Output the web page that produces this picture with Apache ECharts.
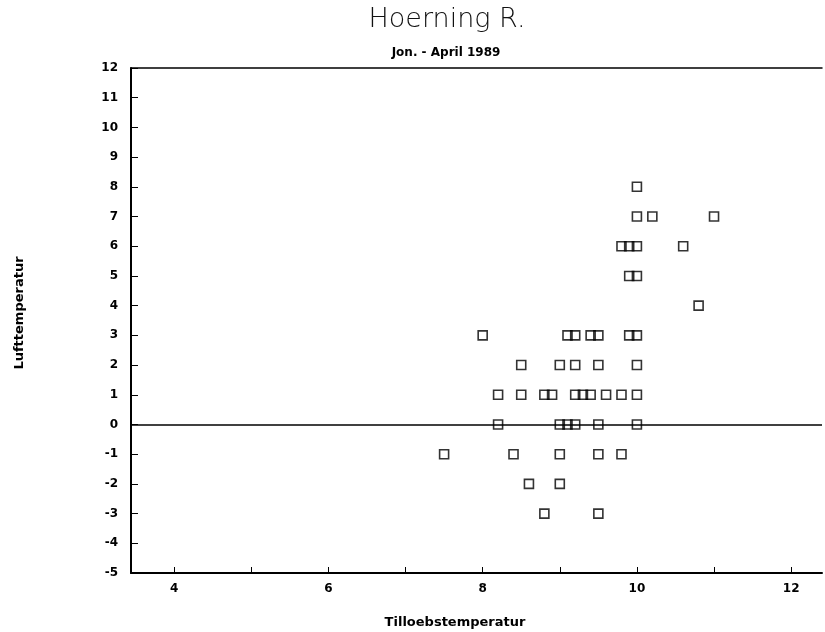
<!DOCTYPE html>
<html>
<head>
<meta charset="utf-8">
<script src="https://cdn.jsdelivr.net/npm/echarts@6/dist/echarts.min.js"></script>
<style>html,body{margin:0;padding:0;background:#fff}#c{width:825px;height:632px}</style>
</head>
<body>
<div id="c"></div>
<script>
// Tilloebstemperatur (x) and Lufttemperatur (y)
var tilloeb = [10, 10, 10.2, 11, 9.8, 9.9, 10, 10.6, 9.9, 10, 10.8,
  8, 9.1, 9.2, 9.4, 9.5, 9.9, 10,
  8.5, 9.0, 9.2, 9.5, 10,
  8.2, 8.5, 8.8, 8.9, 9.2, 9.3, 9.4, 9.6, 9.8, 10,
  8.2, 9.0, 9.1, 9.2, 9.5, 10,
  7.5, 8.4, 9.0, 9.5, 9.8,
  8.6, 9.0,
  8.8, 9.5];
var luft = [8, 7, 7, 7, 6, 6, 6, 6, 5, 5, 4,
  3, 3, 3, 3, 3, 3, 3,
  2, 2, 2, 2, 2,
  1, 1, 1, 1, 1, 1, 1, 1, 1, 1,
  0, 0, 0, 0, 0, 0,
  -1, -1, -1, -1, -1,
  -2, -2,
  -3, -3];
var xTicks = [4, 5, 6, 7, 8, 9, 10, 11, 12];
var xLabels = [4, 6, 8, 10, 12];
var titleText = 'Hoerning R.';
var subtitleText = 'Jon. - April 1989';
var xName = 'Tilloebstemperatur';
var yName = 'Lufttemperatur';

var pts = tilloeb.map(function (v, i) { return [v, luft[i]]; });
var chart = echarts.init(document.getElementById('c'));
var lab = { color: '#000', fontFamily: 'DejaVu Sans', fontWeight: 'bold', fontSize: 12 };
chart.setOption({
  animation: false,
  backgroundColor: '#fff',
  grid: { left: 131, right: 3, top: 68, bottom: 59, containLabel: false },
  graphic: [
    { type: 'text', style: { text: titleText, x: 447, y: 20, align: 'center', verticalAlign: 'middle', font: '200 27px "DejaVu Sans"', fill: '#111' } },
    { type: 'text', style: { text: subtitleText, x: 446, y: 53, align: 'center', verticalAlign: 'middle', font: 'bold 12px "DejaVu Sans"', fill: '#000' } },
    { type: 'text', style: { text: xName, x: 455, y: 623, align: 'center', verticalAlign: 'middle', font: 'bold 13px "DejaVu Sans"', fill: '#000' } },
    { type: 'text', rotation: Math.PI / 2, x: 20, y: 313, style: { text: yName, x: 0, y: 0, align: 'center', verticalAlign: 'middle', font: 'bold 13px "DejaVu Sans"', fill: '#000' } }
  ],
  xAxis: [{
    type: 'value', min: 3.44, max: 12.4, position: 'bottom',
    splitLine: { show: false },
    axisLine: { show: true, onZero: false, lineStyle: { color: '#000', width: 2 } },
    axisTick: { show: true, inside: true, length: 6, customValues: xTicks, lineStyle: { color: '#000', width: 1 } },
    axisLabel: { customValues: xLabels, margin: 10, ...lab }
  }, {
    type: 'value', min: 3.44, max: 12.4, position: 'top',
    splitLine: { show: false },
    axisLine: { show: true, onZero: false, lineStyle: { color: '#000', width: 1.5 } },
    axisTick: { show: false }, axisLabel: { show: false }
  }],
  yAxis: {
    type: 'value', min: -5, max: 12, interval: 1,
    splitLine: { show: false },
    axisLine: { show: true, onZero: false, lineStyle: { color: '#000', width: 2 } },
    axisTick: { show: true, inside: true, length: 7, lineStyle: { color: '#000', width: 1 } },
    axisLabel: { margin: 13, ...lab }
  },
  series: [{
    type: 'scatter',
    data: pts,
    symbol: 'rect',
    symbolSize: 9,
    itemStyle: { color: 'rgba(0,0,0,0)', borderColor: '#000', borderWidth: 1.6 },
    markLine: {
      silent: true, symbol: 'none', label: { show: false },
      lineStyle: { color: '#000', width: 1.5, type: 'solid' },
      data: [{ yAxis: 0 }]
    },
    z: 3
  }]
});
</script>
</body>
</html>
